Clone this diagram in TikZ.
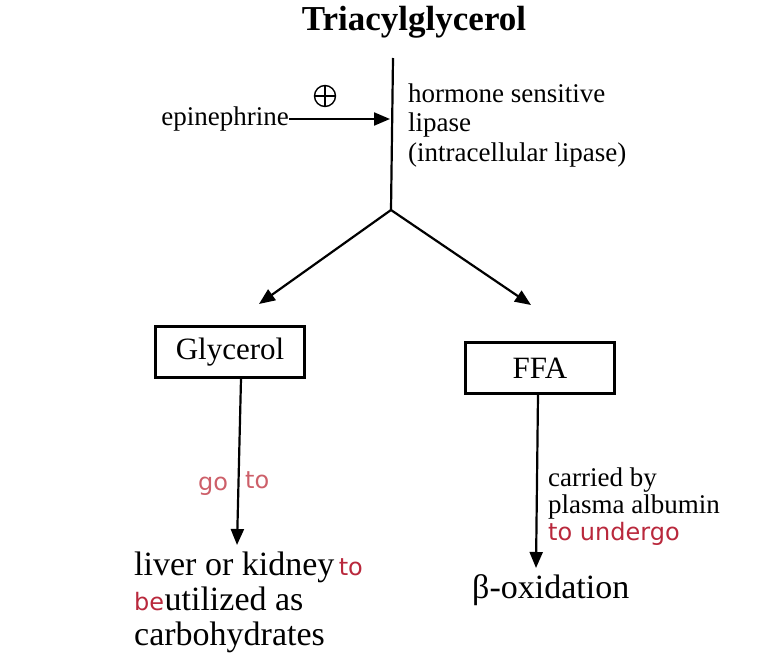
\documentclass[tikz,border=0pt]{standalone}
\usepackage{fontspec}
\setmainfont{Liberation Serif}
\newfontfamily\handfont{DejaVu Sans}
\usetikzlibrary{arrows.meta}
\definecolor{inkred}{RGB}{185,40,60}
\definecolor{pinkred}{RGB}{205,95,105}
\tikzset{
  conn/.style={line width=2.2pt, -{Triangle[length=16pt,width=13pt]}},
  plain/.style={line width=2.2pt},
  boxed/.style={draw, line width=2.2pt, minimum width=149pt, minimum height=51pt, inner sep=0pt, font=\fontsize{31}{34}\selectfont},
  txt/.style={inner sep=0pt, anchor=base west, font=\fontsize{27}{30}\selectfont},
  big/.style={inner sep=0pt, anchor=base west, font=\fontsize{34}{36}\selectfont},
  hand/.style={inner sep=0pt, anchor=base west, font=\handfont\fontsize{24}{26}\selectfont}
}
\begin{document}
\begin{tikzpicture}[x=1pt,y=-1pt]
\useasboundingbox (0,0) rectangle (757,655);
\node[font=\bfseries\fontsize{35}{38}\selectfont, inner sep=0pt] (title) at (414,22) {Triacylglycerol};
\coordinate (top) at (393,58);
\coordinate (split) at (391,210);
\coordinate (hit) at (390,119);
\draw[plain] (top) -- (split);
\node[txt, anchor=base east] (epi) at (289,126) {epinephrine};
\draw[conn] (epi.base east) ++(0,-7) coordinate (epistart) -- (hit);
\node[circle, draw, line width=1.4pt, minimum size=21pt, inner sep=0pt] (plus) at (325,96) {};
\draw[line width=1.4pt] (plus.north) -- (plus.south) (plus.west) -- (plus.east);
\node[txt] (hsl1) at (408,103) {hormone sensitive};
\node[txt] (hsl2) at (408,132) {lipase};
\node[txt] (hsl3) at (408,162) {(intracellular lipase)};
\node[boxed] (gly) at (230,352) {Glycerol};
\node[boxed] (ffa) at (540,368) {FFA};
\coordinate (glyend) at (259,304);
\coordinate (ffaend) at (531,305);
\draw[conn] (split) -- (glyend);
\draw[conn] (split) -- (ffaend);
\coordinate (glyarr) at (237,545);
\coordinate (ffaarr) at (536,568);
\draw[conn] (gly.south -| 241,0) -- (glyarr);
\draw[conn] (ffa.south -| 538,0) -- (ffaarr);
\node[hand, text=pinkred] (go) at (198,490) {go};
\node[hand, text=pinkred] (to1) at (245,488) {to};
\node[txt] (car1) at (548,486) {carried by};
\node[txt] (car2) at (548,513) {plasma albumin};
\node[hand, text=inkred] (und) at (548,540) {to undergo};
\node[big] (beta) at (472,598) {β-oxidation};
\node[big] (liv1) at (134,575) {liver or kidney};
\node[hand, text=inkred, anchor=base west] (to2) at (liv1.base east) {\,to};
\node[hand, text=inkred] (be) at (134,610) {be};
\node[big, anchor=base west] (liv2) at (be.base east) {utilized as};
\node[big] (liv3) at (134,645) {carbohydrates};
\end{tikzpicture}
\end{document}
